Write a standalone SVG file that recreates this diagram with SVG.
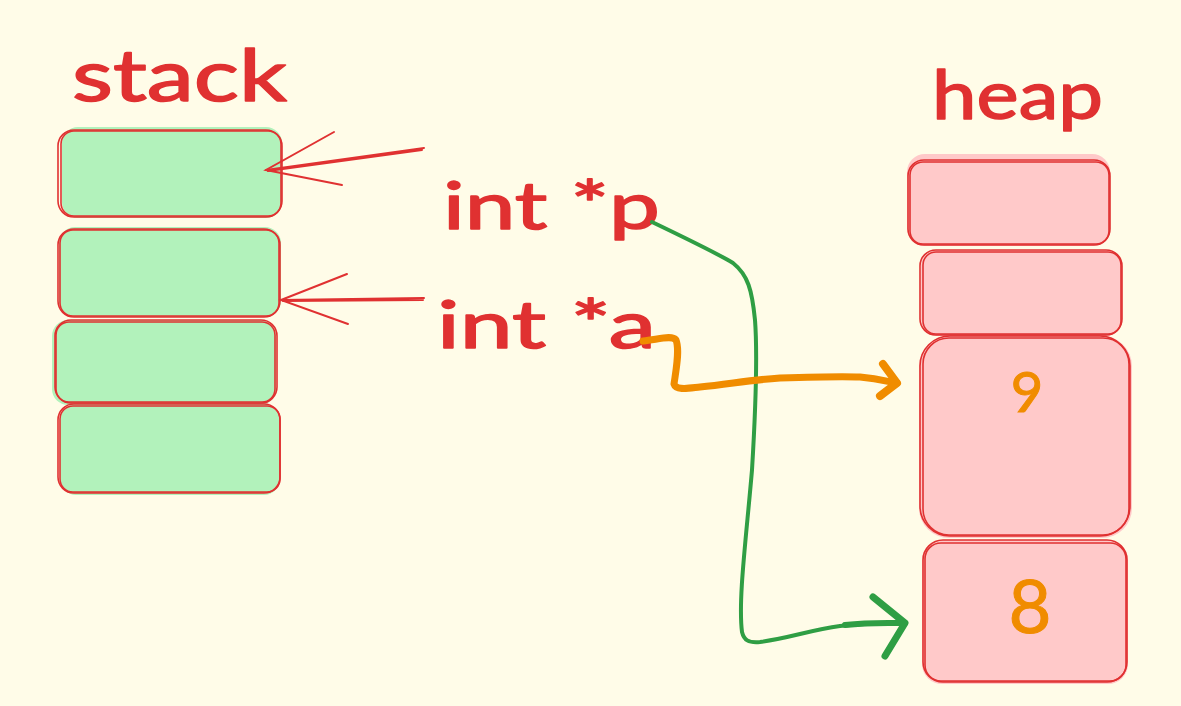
<svg xmlns="http://www.w3.org/2000/svg" width="1181" height="706" viewBox="0 0 1181 706">
<style>
.bg{fill:#fffce8}
.sf{fill:#b2f2bb;stroke:none}
.hf{fill:#ffc9c9;stroke:none}
.ol{fill:none;stroke:#e03131;stroke-width:1.6;stroke-linejoin:round}
.red{fill:none;stroke:#e03131;stroke-width:2;stroke-linecap:round}
.t{font-family:Lato,"Noto Sans",sans-serif;fill:#e03131;stroke:#e03131;stroke-width:1.5;stroke-linejoin:round}
.num{font-family:Lato,"Noto Sans",sans-serif;fill:#f08c00;stroke:#f08c00;stroke-width:1;text-anchor:middle}
.green{fill:none;stroke:#2f9e44;stroke-linecap:round;stroke-linejoin:round}
.orange{fill:none;stroke:#f08c00;stroke-linecap:round;stroke-linejoin:round}
</style>
<rect class="bg" x="0" y="0" width="1181" height="706"/>

<g id="label-stack"><text class="t" x="72" y="101" font-size="72" textLength="215" lengthAdjust="spacingAndGlyphs">stack</text></g>
<g id="label-heap"><text class="t" x="932" y="119" font-size="68" textLength="171" lengthAdjust="spacingAndGlyphs">heap</text></g>
<g id="label-p"><text class="t" x="443" y="229" font-size="66" textLength="217" lengthAdjust="spacingAndGlyphs">int *p</text></g>
<g id="label-a"><text class="t" x="437" y="348" font-size="66" textLength="219" lengthAdjust="spacingAndGlyphs">int *a</text></g>

<g id="stack-1">
<rect class="sf" x="62" y="127" width="220" height="91" rx="16"/>
<rect class="ol" x="58" y="130" width="224" height="87" rx="16"/>
<rect class="ol" x="61" y="131" width="220" height="85" rx="13"/>
</g>
<g id="stack-2">
<rect class="sf" x="59" y="227" width="222" height="90" rx="16"/>
<rect class="ol" x="58" y="229" width="222" height="88" rx="16"/>
<rect class="ol" x="60" y="230" width="219" height="86" rx="13"/>
</g>
<g id="stack-3">
<rect class="sf" x="52" y="320" width="224" height="85" rx="16"/>
<rect class="ol" x="55" y="320" width="222" height="83" rx="16"/>
<rect class="ol" x="56" y="322" width="219" height="80" rx="13"/>
</g>
<g id="stack-4">
<rect class="sf" x="60" y="404" width="220" height="91" rx="16"/>
<rect class="ol" x="58" y="404" width="222" height="89" rx="16"/>
<rect class="ol" x="60" y="406" width="220" height="86" rx="13"/>
</g>

<g id="heap-1">
<rect class="hf" x="907" y="154" width="203" height="92" rx="18"/>
<rect class="ol" x="908" y="160" width="202" height="85" rx="16"/>
<rect class="ol" x="910" y="162" width="199" height="82" rx="13"/>
</g>
<g id="heap-2">
<rect class="hf" x="921" y="250" width="201" height="86" rx="16"/>
<rect class="ol" x="920" y="250" width="202" height="85" rx="16"/>
<rect class="ol" x="923" y="252" width="198" height="82" rx="13"/>
</g>
<g id="heap-3">
<rect class="hf" x="919" y="336" width="213" height="202" rx="30"/>
<rect class="ol" x="920" y="336" width="210" height="200" rx="30"/>
<rect class="ol" x="923" y="338" width="206" height="197" rx="26"/>
<text class="num" x="1027" y="412" font-size="56">9</text>
</g>
<g id="heap-4">
<rect class="hf" x="922" y="540" width="206" height="144" rx="20"/>
<rect class="ol" x="923" y="540" width="204" height="142" rx="20"/>
<rect class="ol" x="925" y="543" width="201" height="138" rx="16"/>
<text class="num" x="1030" y="633" font-size="74">8</text>
</g>

<g id="connectors">
<path class="red" d="M424 148 L266 170 M422 150 L268 171"/>
<path class="red" d="M334 132 L266 170 L342 185"/>
<path class="red" d="M424 298 L281 300 M423 300 L283 301"/>
<path class="red" d="M347 274 L281 300 L348 324"/>
<path class="green" stroke-width="4" d="M652 222 C700 245 720 255 733 263 C748 275 752 290 755 320 C758 360 755 420 752 470 C746 540 738 600 742 632 C744 640 748 643 760 642 C790 638 810 630 840 626 C870 623 890 624 905 623"/>
<path class="green" stroke-width="7" d="M873 597 L905 623 L885 656"/>
<path class="green" stroke-width="6" d="M845 625 C870 622 890 623 905 623"/>
<path class="orange" stroke-width="7" d="M643 341 C660 339 672 335 676 340 C680 350 676 370 674 384 C676 391 690 388 700 387 C730 384 750 380 780 378 C810 377 840 376 860 377 C880 379 890 382 897 383"/>
<path class="orange" stroke-width="8" d="M883 364 L897 383 L880 396"/>
</g>
</svg>
